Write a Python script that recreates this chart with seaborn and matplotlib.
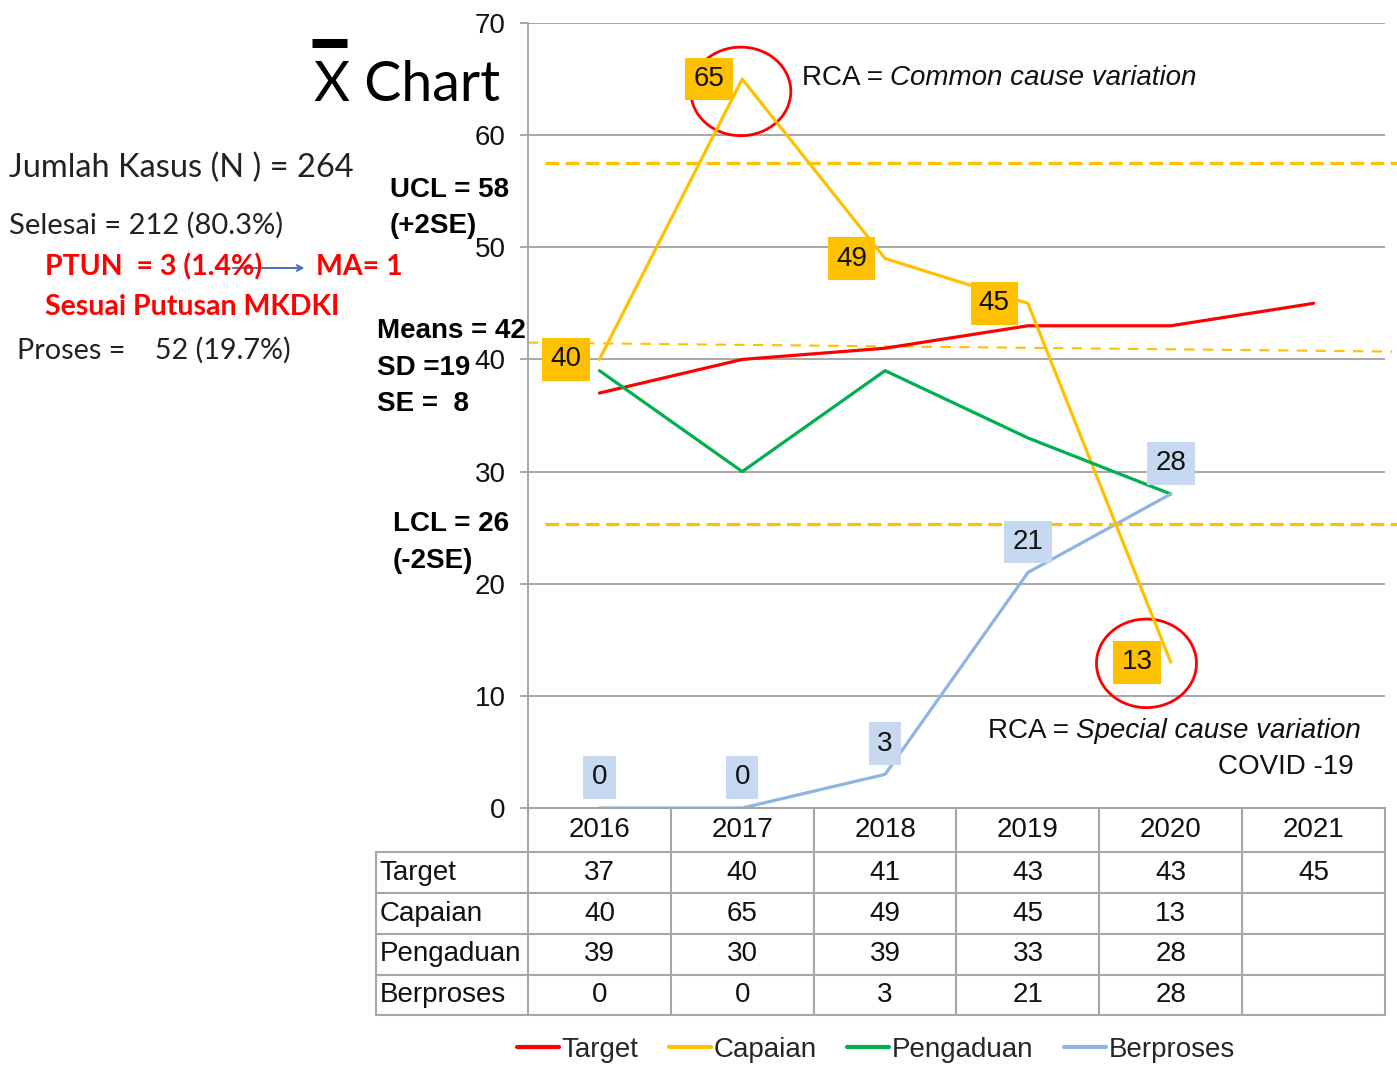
import numpy as np
import pandas as pd
import seaborn as sns
import matplotlib.pyplot as plt
from matplotlib.patches import Ellipse
from matplotlib.lines import Line2D

# data
years = ['2016', '2017', '2018', '2019', '2020', '2021']
target = [37, 40, 41, 43, 43, 45]
capaian = [40, 65, 49, 45, 13, None]
pengaduan = [39, 30, 39, 33, 28, None]
berproses = [0, 0, 3, 21, 28, None]
series_names = ['Target', 'Capaian', 'Pengaduan', 'Berproses']
ucl = 57.5
lcl = 25.3
mean_line = [41.5, 40.7]
yticks = [0, 10, 20, 30, 40, 50, 60, 70]

colors = {'Target': '#FF0000', 'Capaian': '#FFC000',
          'Pengaduan': '#00B050', 'Berproses': '#8EB4E3'}

rows = []
for name, vals in zip(series_names, [target, capaian, pengaduan, berproses]):
    for i, v in enumerate(vals):
        if v is not None:
            rows.append({'pos': i, 'value': v, 'series': name})
df = pd.DataFrame(rows)

sns.set_style('white')
plt.rcParams['font.family'] = ['Liberation Sans', 'DejaVu Sans']
txt_col = '#111111'
fs = 20

fig = plt.figure(figsize=(13.97, 10.67), dpi=100)
ax = fig.add_axes([528/1397, 1-808/1067, 857/1397, 785/1067])

sns.lineplot(data=df, x='pos', y='value', hue='series', hue_order=series_names,
             palette=colors, linewidth=2.3, ax=ax)
handles, labels = ax.get_legend_handles_labels()
ax.get_legend().remove()

ax.set_xlim(-0.5, 5.5)
ax.set_ylim(0, 70)
ax.set_yticks(yticks)
ax.set_xticks([])
ax.set_xlabel('')
ax.set_ylabel('')
ax.grid(axis='y', color='#A0A0A0', linewidth=1.3)
ax.set_axisbelow(True)
for s in ['top', 'right', 'bottom']:
    ax.spines[s].set_visible(False)
ax.spines['left'].set_color('#A0A0A0')
ax.spines['left'].set_linewidth(1.3)
ax.tick_params(axis='y', length=6, width=1.3, color='#A0A0A0', pad=10,
               labelsize=fs, labelcolor=txt_col, left=True)

# control lines
ax.axhline(ucl, xmin=0.02, xmax=1.014, color='#FFC000', lw=2.3,
           dashes=(4.3, 2.0), clip_on=False)
ax.axhline(lcl, xmin=0.02, xmax=1.014, color='#FFC000', lw=2.3,
           dashes=(4.3, 2.0), clip_on=False)
ax.plot([-0.5, 5.55], mean_line, color='#FFC000', lw=1.5, dashes=(5, 4),
        clip_on=False, zorder=1)

# data labels
for i, v in enumerate(capaian):
    if v is None:
        continue
    ax.annotate(str(v), (i, v), xytext=(-13, 0), textcoords='offset points',
                ha='right', va='center', fontsize=fs, color=txt_col,
                bbox=dict(boxstyle='square,pad=0.3', fc='#FFC000', ec='none'))
for i, v in enumerate(berproses):
    if v is None:
        continue
    ax.annotate(str(v), (i, v), xytext=(0, 22), textcoords='offset points',
                ha='center', va='center', fontsize=fs, color=txt_col,
                bbox=dict(boxstyle='square,pad=0.3', fc='#C6D9F1', ec='none'))

# red circles
ax.add_patch(Ellipse((0.99, 63.9), 0.70, 7.9, fill=False, ec='#FF0000', lw=2))
ax.add_patch(Ellipse((3.83, 12.9), 0.70, 7.9, fill=False, ec='#FF0000', lw=2))

# RCA notes
t1 = ax.text(1.42, 65.1, 'RCA =', fontsize=fs, color=txt_col, va='center')
ax.annotate('Common cause variation', xy=(1, 0.5), xycoords=t1, xytext=(5, 0),
            textcoords='offset points', fontsize=fs, color=txt_col,
            va='center', style='italic')
t2 = ax.text(2.72, 6.9, 'RCA =', fontsize=fs, color=txt_col, va='center')
ax.annotate('Special cause variation', xy=(1, 0.5), xycoords=t2, xytext=(5, 0),
            textcoords='offset points', fontsize=fs, color=txt_col,
            va='center', style='italic')
ax.text(5.28, 3.7, 'COVID -19', fontsize=fs, color=txt_col, va='center', ha='right')

# data table under the chart
tr = ax.get_xaxis_transform()
edges_y = [0, -0.05605, -0.1083, -0.1605, -0.2127, -0.2637]
label_left = -1.564
grid_kw = dict(color='#A6A6A6', lw=1.5, transform=tr, clip_on=False)
for k, yv in enumerate(edges_y):
    x0 = -0.5 if k == 0 else label_left
    ax.plot([x0, 5.5], [yv, yv], **grid_kw)
for j in range(7):
    ax.plot([j - 0.5, j - 0.5], [edges_y[0], edges_y[-1]], **grid_kw)
ax.plot([label_left, label_left], [edges_y[1], edges_y[-1]], **grid_kw)

for j, yr in enumerate(years):
    ax.text(j, (edges_y[0] + edges_y[1]) / 2, yr, transform=tr, ha='center',
            va='center', fontsize=fs, color=txt_col)
for r, (name, vals) in enumerate(zip(series_names,
                                     [target, capaian, pengaduan, berproses])):
    yc = (edges_y[r + 1] + edges_y[r + 2]) / 2
    ax.text(label_left + 0.025, yc, name, transform=tr, ha='left', va='center',
            fontsize=fs, color=txt_col)
    for j, v in enumerate(vals):
        if v is not None:
            ax.text(j, yc, str(v), transform=tr, ha='center', va='center',
                    fontsize=fs, color=txt_col)

fig.legend(handles, labels, loc='center', bbox_to_anchor=(876/1397, 1-1050/1067),
           ncol=4, frameon=False, fontsize=fs, handlelength=1.5,
           handletextpad=0.1, columnspacing=1.1, borderaxespad=0)
for h in fig.legends[0].get_lines():
    h.set_linewidth(3)

# title and side notes
fig.text(314/1397, 1-101/1067, 'X Chart', fontsize=40, family=['Lato', 'DejaVu Sans'],
         color='black', va='baseline')
fig.add_artist(Line2D([312/1397, 347/1397], [1-43/1067, 1-43/1067], color='black',
                      lw=6.5, solid_capstyle='butt'))

side = ['Lato', 'DejaVu Sans']
fig.text(9/1397, 1-168/1067, 'Jumlah Kasus (N ) = 264', fontsize=23.5, family=side,
         color='#222222', va='center')
fig.text(9/1397, 1-225/1067, 'Selesai = 212 (80.3%)', fontsize=21, family=side,
         color='#222222', va='center')
fig.text(45/1397, 1-267/1067, 'PTUN  = 3 (1.4%)', fontsize=20.5, family=side,
         color='#FF0000', weight='bold', va='center')
fig.text(316/1397, 1-267/1067, 'MA= 1', fontsize=20.5, family=side,
         color='#FF0000', weight='bold', va='center')
fig.text(45/1397, 1-307/1067, 'Sesuai Putusan MKDKI', fontsize=20.5, family=side,
         color='#FF0000', weight='bold', va='center')
fig.text(17/1397, 1-350/1067, 'Proses =    52 (19.7%)', fontsize=20.7, family=side,
         color='#222222', va='center')
fig.add_artist(plt.annotate('', xy=(307/1397, 1-268/1067), xytext=(230/1397, 1-268/1067),
                            xycoords='figure fraction',
                            arrowprops=dict(arrowstyle='->', color='#4472C4', lw=1.2)))

bold_kw = dict(fontsize=20, weight='bold', color='black', va='center')
fig.text(390/1397, 1-190/1067, 'UCL = 58', **bold_kw)
fig.text(390/1397, 1-226/1067, '(+2SE)', **bold_kw)
fig.text(377/1397, 1-331/1067, 'Means = 42', **bold_kw)
fig.text(377/1397, 1-368/1067, 'SD =19', **bold_kw)
fig.text(377/1397, 1-404/1067, 'SE =  8', **bold_kw)
fig.text(393/1397, 1-524/1067, 'LCL = 26', **bold_kw)
fig.text(393/1397, 1-561/1067, '(-2SE)', **bold_kw)

fig.savefig('out.png', dpi=100)
